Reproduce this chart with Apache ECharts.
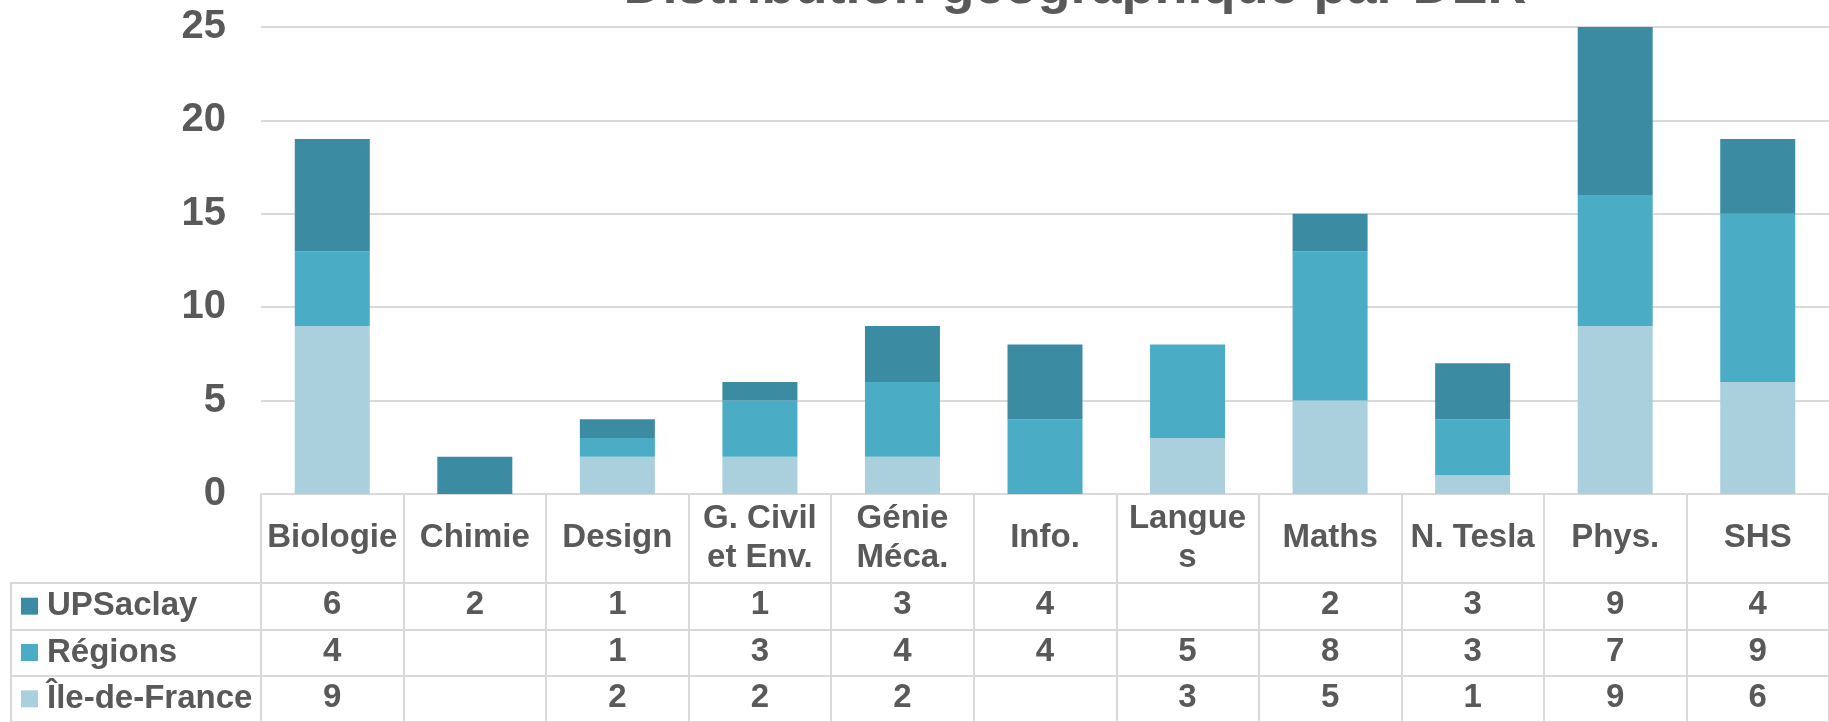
<!DOCTYPE html>
<html>
<head>
<meta charset="utf-8">
<script src="https://cdn.jsdelivr.net/npm/echarts@6/dist/echarts.min.js"></script>
<style>
  html, body { margin: 0; padding: 0; background: #ffffff; }
  #chart { width: 1829px; height: 722px; }
</style>
</head>
<body>
<div id="chart"></div>
<script>
// ---- Data ----
const titleText = 'Distribution géographique par DER';
const categories = ['Biologie', 'Chimie', 'Design', 'G. Civil\net Env.', 'Génie\nMéca.', 'Info.', 'Langue\ns', 'Maths', 'N. Tesla', 'Phys.', 'SHS'];
const seriesNames = ['UPSaclay', 'Régions', 'Île-de-France'];
const upsaclay    = [6, 2, 1, 1, 3, 4, null, 2, 3, 9, 4];
const regions     = [4, null, 1, 3, 4, 4, 5, 8, 3, 7, 9];
const ileDeFrance = [9, null, 2, 2, 2, null, 3, 5, 1, 9, 6];
const yMin = 0, yMax = 25, yStep = 5;

// ---- Styles ----
const seriesColors = ['#3B8BA3', '#4BACC6', '#AACFDD'];
const txt = '#595959';
const lineCol = '#D9D9D9';
const font = "'Liberation Sans', Arial, sans-serif";

const rows = [upsaclay, regions, ileDeFrance];
const rowMargins = [111, 158, 204];

const chart = echarts.init(document.getElementById('chart'), null, { renderer: 'canvas' });

const xAxes = [{
  type: 'category', gridIndex: 0, position: 'bottom', data: categories,
  axisLine: { show: true, lineStyle: { color: lineCol, width: 2 } },
  axisTick: { show: true, interval: 0, length: 228, lineStyle: { color: lineCol, width: 2 } },
  axisLabel: {
    interval: 0, margin: 44, verticalAlign: 'middle', lineHeight: 39,
    color: txt, fontSize: 33, fontWeight: 'bold', fontFamily: font
  },
  splitLine: { show: false }
}];
rows.forEach((r, i) => {
  xAxes.push({
    type: 'category', gridIndex: 0, position: 'bottom', offset: 0,
    data: r.map(v => v == null ? '' : String(v)),
    axisLine: { show: false }, axisTick: { show: false }, splitLine: { show: false },
    axisLabel: {
      interval: 0, margin: rowMargins[i], verticalAlign: 'middle',
      color: txt, fontSize: 33, fontWeight: 'bold', fontFamily: font
    }
  });
});
xAxes.push({
  type: 'value', gridIndex: 1, position: 'top', min: 0, max: 1,
  axisLine: { show: true, lineStyle: { color: lineCol, width: 2 } },
  axisTick: { show: false }, axisLabel: { show: false }, splitLine: { show: false }
});

const rich = {};
seriesColors.forEach((c, i) => {
  rich['s' + i] = { backgroundColor: c, width: 17, height: 17 };
});
rich.t = { color: txt, fontSize: 33, fontWeight: 'bold', fontFamily: font, padding: [0, 0, 0, 9] };

const series = [];
[2, 1, 0].forEach(i => {
  series.push({
    name: seriesNames[i], type: 'bar', stack: 'total',
    xAxisIndex: 0, yAxisIndex: 0,
    barWidth: 75,
    itemStyle: { color: seriesColors[i] },
    data: rows[i]
  });
});

chart.setOption({
  animation: false,
  backgroundColor: '#ffffff',
  title: {
    text: titleText, left: 1070, top: -44, textAlign: 'center',
    textStyle: { color: txt, fontSize: 54, fontWeight: 'bold', fontFamily: font }
  },
  grid: [
    { left: 261, right: 0, top: 27, bottom: 228, containLabel: false },
    { left: 11, right: 0, top: 583, bottom: 0, containLabel: false }
  ],
  xAxis: xAxes,
  yAxis: [{
    type: 'value', gridIndex: 0, min: yMin, max: yMax, interval: yStep,
    axisLine: { show: false }, axisTick: { show: false },
    axisLabel: { margin: 35, color: txt, fontSize: 40, fontWeight: 'bold', fontFamily: font },
    splitLine: { show: true, lineStyle: { color: lineCol, width: 2 } }
  }, {
    type: 'category', gridIndex: 1, inverse: true, data: seriesNames,
    axisLine: { show: true, lineStyle: { color: lineCol, width: 2 } },
    axisTick: { show: false },
    splitLine: { show: true, interval: 0, lineStyle: { color: lineCol, width: 2 } },
    axisLabel: {
      inside: true, margin: 10, interval: 0, align: 'left', verticalAlign: 'middle',
      formatter: (v, idx) => '{s' + idx + '|}{t|' + v + '}',
      rich: rich
    }
  }],
  series: series
});
</script>
</body>
</html>
